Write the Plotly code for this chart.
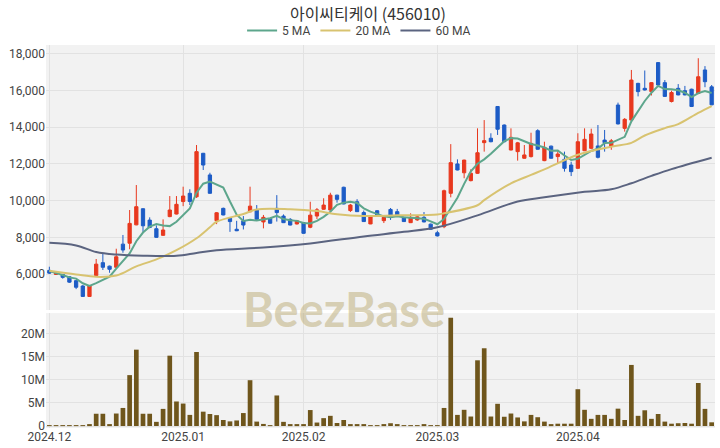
import plotly.graph_objects as go
import pandas as pd

# ---------------- data ----------------
opens = [6200, 5980, 5980, 5850, 5640, 5350, 4780, 5920, 6620, 6430,
         6370, 7630, 7680, 8680, 9560, 8940, 8470, 8110, 9130, 9270,
         9950, 10400, 10210, 12580, 11400, 8910, 9580, 9040, 8440, 8900,
         9390, 9490, 8840, 9030, 9580, 9160, 8980, 8730, 8800, 8550,
         9160, 9530, 9490, 10300, 10730, 9460, 9940, 9350, 8730, 9450,
         8910, 9520, 9400, 9090, 8800, 8950, 9090, 8720, 8250, 8580,
         10400, 12000, 11520, 11090, 11490, 13160, 13400, 15130, 14120, 12760,
         12670, 12310, 12400, 13810, 12180, 12970, 12400, 12250, 11940, 11760,
         12720, 12850, 12980, 13300, 12950, 15210, 13940, 14390, 16390, 16120,
         15940, 17520, 16430, 15400, 16120, 15990, 16070, 15840, 17120, 16200]
highs = [6400, 6100, 6000, 5870, 5680, 5400, 5380, 6820, 7160, 6460,
         7380, 8130, 9490, 10850, 9580, 9090, 8650, 8980, 10250, 10250,
         10760, 10620, 13030, 12600, 11520, 9380, 9620, 9060, 8900, 9160,
         10760, 9760, 9220, 9050, 10300, 9250, 9050, 8950, 8820, 9940,
         9600, 10130, 10430, 10320, 10760, 9820, 10080, 9460, 9200, 9480,
         9210, 9600, 9550, 9100, 9310, 9200, 9380, 8750, 8360, 10600,
         13080, 12250, 12230, 11710, 13940, 14390, 13670, 15150, 14150, 13940,
         13200, 13030, 13700, 13890, 13210, 13000, 12720, 12670, 12120, 13670,
         13940, 13920, 14120, 13850, 13360, 15340, 14500, 17120, 16420, 17090,
         16460, 17550, 16570, 15990, 16350, 16250, 16100, 17760, 17330, 16300]
lows = [6000, 5950, 5750, 5520, 5180, 4760, 4760, 5900, 6220, 6070,
        6340, 7160, 7350, 8660, 8300, 8500, 7980, 8090, 9100, 9250,
        9700, 9760, 10150, 11670, 10380, 8720, 9200, 8300, 8340, 8430,
        9380, 8960, 8490, 8750, 8860, 8780, 8650, 8700, 8200, 8500,
        9000, 9500, 9450, 9890, 9800, 9380, 9380, 8850, 8720, 9200,
        8780, 8950, 9140, 8840, 8780, 8900, 8820, 8420, 8050, 8500,
        10180, 11650, 11220, 11050, 11460, 12670, 13180, 13580, 13180, 12740,
        12180, 12290, 12350, 12780, 12150, 12290, 12000, 11580, 11340, 11740,
        12700, 12800, 12300, 12670, 12770, 14150, 13760, 14380, 15680, 16000,
        15730, 16280, 15660, 15350, 15740, 15740, 15100, 15800, 16180, 15200]
closes = [6050, 6060, 5820, 5560, 5280, 4780, 5350, 6540, 6370, 6260,
          6940, 7310, 8760, 9670, 8630, 8540, 8000, 8400, 9490, 9800,
          10250, 9950, 12670, 11940, 10400, 9340, 9220, 8860, 8360, 8670,
          9700, 8980, 9090, 8770, 9350, 8800, 8670, 8900, 8220, 9210,
          9500, 9760, 10300, 10070, 9820, 9760, 9400, 8860, 9160, 9220,
          9090, 9130, 9160, 8860, 9090, 9120, 8840, 8440, 8080, 10540,
          12070, 11670, 12210, 11490, 12610, 13270, 13210, 13890, 13210, 13450,
          13150, 12490, 13120, 12800, 12900, 12310, 12540, 11760, 11580, 13210,
          13340, 13630, 12360, 13160, 13260, 14180, 14430, 16570, 15940, 16030,
          16430, 16300, 15680, 15890, 15760, 15760, 15130, 16750, 16480, 15220]
volumes_m = [0.1, 0.1, 0.1, 0.1, 0.1, 0.15, 0.2, 2.65, 2.65, 0.25,
             2.7, 3.9, 11.0, 16.5, 2.65, 2.65, 0.9, 3.7, 15.2, 5.3,
             4.85, 2.4, 16.0, 3.1, 2.6, 2.35, 1.3, 1.0, 1.2, 2.8,
             9.9, 0.95, 0.45, 0.15, 6.6, 0.9, 0.25, 0.25, 0.3, 3.45,
             0.75, 1.7, 2.2, 0.65, 1.3, 0.3, 0.25, 0.2, 0.15, 0.15,
             0.2, 0.6, 0.3, 0.1, 0.1, 0.1, 0.2, 0.15, 0.1, 3.9,
             23.4, 2.4, 3.5, 2.05, 14.2, 16.8, 2.05, 4.8, 2.0, 2.7,
             1.85, 1.0, 2.4, 1.9, 0.95, 0.35, 0.5, 0.5, 0.5, 7.95,
             3.5, 1.55, 2.4, 2.4, 1.55, 3.75, 1.3, 13.2, 2.2, 3.4,
             1.55, 2.6, 0.95, 0.5, 0.6, 0.65, 0.5, 9.3, 3.7, 0.8]

# 5-day MA values for the first four sessions (earlier closes not shown)
ma5_head = [6160, 6070, 5950, 5820]

# 20 MA and 60 MA at these session indices
ma20_idx = [0, 4, 7, 10, 13, 16, 19, 22, 24, 25, 29, 31, 36, 40, 43, 47, 52, 58, 59,
            64, 65, 69, 72, 74, 79, 84, 87, 89, 92, 94, 97, 99]
ma20_val = [6180, 5980, 5850, 5920, 6420, 6800, 7300, 7950, 8550, 8850, 9270, 9520, 9530,
            9430, 9260, 9160, 9200, 9250, 9310, 9750, 10030, 10940, 11400, 11700, 12500,
            12940, 13150, 13550, 13950, 14170, 14780, 15150]
ma60_idx = [0, 4, 7, 10, 14, 19, 22, 25, 32, 39, 47, 53, 58, 64, 70, 74, 80, 84, 87,
            90, 93, 99]
ma60_val = [7700, 7560, 7200, 7060, 7000, 7000, 7150, 7300, 7450, 7670, 8050, 8300, 8550,
            9200, 9950, 10180, 10480, 10620, 10950, 11350, 11720, 12340]

tick_idx = [0, 20, 38, 58, 79]
tick_text = ["2024.12", "2025.01", "2025.02", "2025.03", "2025.04"]

title_text = "아이씨티케이 (456010)"

# ---------------- figure ----------------
x = list(range(len(closes)))
ma5 = pd.Series(closes).rolling(5).mean().tolist()
ma5[:4] = ma5_head
volumes = [v * 1e6 for v in volumes_m]

RED = "#e8381e"
BLUE = "#1d5cc6"

fig = go.Figure()
fig.add_trace(go.Candlestick(
    x=x, open=opens, high=highs, low=lows, close=closes,
    increasing=dict(line=dict(color=RED, width=1), fillcolor=RED),
    decreasing=dict(line=dict(color=BLUE, width=1), fillcolor=BLUE),
    whiskerwidth=0, showlegend=False, xaxis="x", yaxis="y"))
fig.add_trace(go.Scatter(x=x, y=ma5, mode="lines", name="5 MA",
                         line=dict(color="#5da68c", width=2), xaxis="x", yaxis="y"))
fig.add_trace(go.Scatter(x=ma20_idx, y=ma20_val, mode="lines", name="20 MA",
                         line=dict(color="#d8c370", width=2, shape="spline"), xaxis="x", yaxis="y"))
fig.add_trace(go.Scatter(x=ma60_idx, y=ma60_val, mode="lines", name="60 MA",
                         line=dict(color="#5b6480", width=2, shape="spline"), xaxis="x", yaxis="y"))
fig.add_trace(go.Bar(x=x, y=volumes, marker=dict(color="#6f561c", line=dict(width=0)),
                     width=0.7, showlegend=False, xaxis="x2", yaxis="y2"))

font_fam = "Roboto, 'Noto Sans CJK KR', sans-serif"
grid = "#e2e2e2"
fig.update_layout(
    width=720, height=448,
    margin=dict(l=46, r=5, t=45, b=20, autoexpand=False),
    paper_bgcolor="white", plot_bgcolor="#f2f2f2",
    font=dict(family=font_fam, size=12, color="#444"),
    title=dict(text=title_text, x=0.511, xanchor="center", y=0.98, yanchor="top",
               font=dict(size=16, color="#333", family="'Noto Sans CJK KR', Roboto, sans-serif")),
    legend=dict(orientation="h", x=0.468, xanchor="center", y=1.0, yanchor="bottom",
                font=dict(size=12, color="#444"), bgcolor="rgba(0,0,0,0)",
                itemwidth=30, tracegroupgap=0),
    showlegend=True,
    xaxis=dict(domain=[0, 1], range=[-0.5, 99.5], anchor="y", showticklabels=False,
               tickvals=tick_idx, showgrid=True, gridcolor=grid, zeroline=False,
               rangeslider=dict(visible=False), matches="x2", automargin=False),
    yaxis=dict(domain=[0.308, 1], range=[4040, 18480], tickvals=list(range(6000, 18001, 2000)),
               tickformat=",", showgrid=True, gridcolor=grid, zeroline=False, ticks="",
               automargin=False),
    xaxis2=dict(domain=[0, 1], range=[-0.5, 99.5], anchor="y2", tickvals=tick_idx,
                ticktext=tick_text, showgrid=True, gridcolor=grid, zeroline=False, ticks="",
                automargin=False),
    yaxis2=dict(domain=[0, 0.300], range=[-0.43e6, 24.4e6],
                tickvals=[0, 5e6, 10e6, 15e6, 20e6], ticktext=["0", "5M", "10M", "15M", "20M"],
                showgrid=True, gridcolor=grid, zeroline=False, ticks="", automargin=False),
    annotations=[dict(text="<b>BeezBase</b>", x=0.445, y=0.31, xref="paper", yref="paper",
                      xanchor="center", yanchor="middle", showarrow=False,
                      font=dict(size=47, color="rgba(190,175,125,0.55)",
                                family="Lato, Roboto, sans-serif"))],
)

fig.write_html("out.html", config={"displayModeBar": False})

# remove the default 8px body margin of the page so the figure sits at (0, 0)
with open("out.html", "r", encoding="utf-8") as f:
    html = f.read()
html = html.replace("<head>", "<head><style>html,body{margin:0;padding:0;}</style>", 1)
with open("out.html", "w", encoding="utf-8") as f:
    f.write(html)
